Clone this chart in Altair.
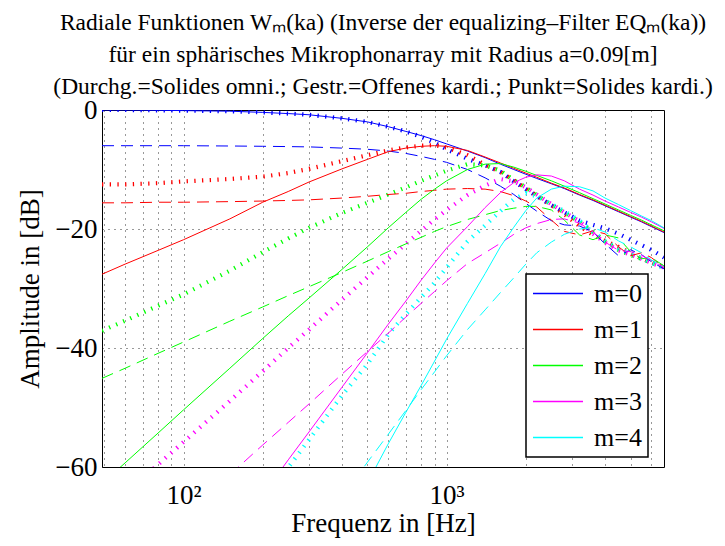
import altair as alt
import pandas as pd

FREQ = [49, 60, 80, 100, 150, 200, 250, 300, 400, 500,
        600, 700, 800, 900, 1000, 1200, 1400, 1600, 1800, 2000,
        2200, 2500, 2800, 3200, 3600, 4000, 4500, 5000, 5500, 6000,
        6700]
N = None

# Solid: "Solides omni."
SOLID_M0 = [0, 0, -0.05, -0.1, -0.2, -0.4, -0.6, -0.8, -1.4, -2.0,
            -2.8, -3.6, -4.3, -5.0, -5.7, -6.9, -8.0, -9.1, -10.0, -10.8,
            -11.5, -12.4, -13.2, -14.3, -15.2, -16.1, -17.1, -18.0, -18.8, -19.6,
            -20.6]
SOLID_M1 = [-27.6, -25.9, -23.6, -21.8, -18.3, -15.5, -13.7, -12.1, -9.9, -8.3,
            -7.0, -6.4, -6.1, -6.0, -6.1, -6.8, -7.9, -8.9, -9.8, -10.6,
            -11.3, -12.3, -13.1, -14.2, -15.1, -16.0, -17.0, -17.9, -18.7, -19.5,
            -20.5]
SOLID_M2 = [-62.8, -59.3, -54.3, -50.4, -43.4, -38.4, -34.6, -31.6, -26.8, -23.0,
            -19.8, -17.2, -15.0, -13.3, -11.9, -10.0, -9.1, -9.0, -9.6, -10.3,
            -11.0, -11.9, -12.8, -13.9, -14.9, -15.8, -16.8, -17.7, -18.5, -19.3,
            -20.3]
SOLID_M3 = [N, N, N, N, N, -64.7, -58.8, -54.1, -46.6, -40.8,
            -36.0, -32.1, -28.6, -25.7, -23.2, -19.6, -16.4, -13.9, -12.2, -11.3,
            -10.9, -11.1, -11.9, -13.3, -14.3, -15.3, -16.3, -17.2, -18.0, -18.8,
            -19.9]
SOLID_M4 = [N, N, N, N, N, N, N, N, N, -62.7,
            -56.1, -50.8, -46.3, -42.2, -38.5, -32.5, -27.5, -23.0, -19.7, -16.9,
            -14.8, -13.3, -12.8, -12.9, -13.6, -14.8, -15.9, -16.9, -17.8, -18.6,
            -19.8]

# Dashed: "Offenes kardi."
DASHED_M0 = [-6.0, -6.0, -6.0, -6.0, -6.05, -6.1, -6.15, -6.2, -6.4, -6.6,
             -6.9, -7.3, -7.8, -8.3, -8.8, -10.0, -11.4, -12.8, -14.2, -15.7,
             -17.0, -18.6, -19.3, -19.5, -20.5, -22.5, -24.5, -23.5, -24.3, -25.5,
             -26.7]
DASHED_M1 = [-15.6, -15.6, -15.5, -15.5, -15.4, -15.3, -15.2, -15.1, -14.8, -14.5,
             -14.2, -14.0, -13.7, -13.5, -13.3, -13.2, -13.3, -13.7, -14.4, -15.3,
             -16.3, -18.5, -20.4, -21.0, -20.3, -20.8, -23.0, -24.5, -24.0, -24.8,
             -26.5]
DASHED_M2 = [-45.1, -43.4, -40.9, -39.0, -35.5, -33.1, -31.2, -29.7, -27.3, -25.4,
             -23.8, -22.5, -21.4, -20.4, -19.6, -18.4, -17.6, -16.9, -16.5, -16.2,
             -16.2, -16.8, -18.5, -21.0, -21.8, -21.0, -21.5, -23.8, -25.0, -24.8,
             -26.2]
DASHED_M3 = [N, N, N, N, -61.3, -56.3, -52.5, -49.4, -44.4, -40.6,
             -37.5, -34.8, -32.5, -30.5, -28.7, -25.8, -24.0, -22.4, -20.9, -19.8,
             -19.1, -18.4, -18.3, -19.0, -20.5, -22.2, -23.6, -23.8, -24.4, -25.3,
             -26.4]
DASHED_M4 = [N, N, N, N, N, N, N, N, -65.0, -59.2,
             -54.5, -50.5, -47.0, -44.0, -41.3, -36.9, -33.6, -30.7, -28.2, -25.9,
             -24.0, -22.2, -20.9, -20.0, -19.8, -20.5, -22.0, -23.0, -24.0, -25.2,
             -26.3]

# Dotted: "Solides kardi."
DOTTED_M0 = [0, 0, -0.05, -0.1, -0.2, -0.4, -0.6, -0.8, -1.4, -2.0,
             -2.8, -3.6, -4.5, -5.5, -6.6, -8.2, -9.3, -10.4, -12.0, -13.3,
             -14.5, -16.0, -17.2, -18.6, -19.3, -19.9, -20.8, -21.8, -22.7, -23.5,
             -24.8]
DOTTED_M1 = [-12.5, -12.5, -12.3, -12.0, -11.6, -11.2, -10.6, -9.9, -8.6, -7.6,
             -6.8, -6.3, -6.0, -5.9, -6.3, -7.6, -9.2, -10.4, -11.8, -13.2,
             -14.4, -16.0, -17.5, -19.5, -21.0, -22.0, -23.0, -24.0, -25.0, -25.6,
             -26.4]
DOTTED_M2 = [-37.1, -35.4, -32.9, -31.0, -27.0, -23.9, -21.6, -19.8, -17.3, -15.6,
             -14.2, -13.0, -11.9, -11.0, -10.2, -9.1, -9.3, -10.2, -11.8, -13.0,
             -14.3, -15.9, -17.2, -18.8, -20.5, -22.1, -23.5, -24.4, -25.0, -25.7,
             -26.4]
DOTTED_M3 = [N, -64.6, -59.6, -55.8, -48.9, -43.9, -40.0, -36.9, -31.9, -28.1,
             -25.0, -22.5, -20.3, -18.4, -16.8, -14.3, -12.7, -11.6, -12.0, -13.0,
             -14.2, -15.8, -17.2, -18.7, -20.8, -22.3, -23.6, -24.3, -25.0, -25.7,
             -26.5]
DOTTED_M4 = [N, N, N, N, N, -66.0, -60.1, -55.4, -48.0, -42.7,
             -37.7, -34.3, -31.5, -29.0, -26.5, -22.1, -19.4, -17.0, -15.0, -14.0,
             -14.5, -15.8, -17.0, -18.6, -20.5, -22.0, -23.3, -24.1, -24.9, -25.7,
             -26.6]

ORDERS = ["m=0", "m=1", "m=2", "m=3", "m=4"]
COLORS = ["#0000ff", "#ff0000", "#00ff00", "#ff00ff", "#00ffff"]
STYLES = ["solid", "dashed", "dotted"]
SERIES = {
    "solid": [SOLID_M0, SOLID_M1, SOLID_M2, SOLID_M3, SOLID_M4],
    "dashed": [DASHED_M0, DASHED_M1, DASHED_M2, DASHED_M3, DASHED_M4],
    "dotted": [DOTTED_M0, DOTTED_M1, DOTTED_M2, DOTTED_M3, DOTTED_M4],
}
X_GRID = [50, 60, 70, 80, 90, 100, 200, 300, 400, 500, 600, 700, 800, 900,
          1000, 2000, 3000, 4000, 5000, 6000]
Y_TICKS = [-60, -40, -20, 0]
TITLE_LINES = [
    "Radiale Funktionen Wₘ(ka) (Inverse der equalizing–Filter EQₘ(ka))",
    "für ein sphärisches Mikrophonarray mit Radius a=0.09[m]",
    "(Durchg.=Solides omni.; Gestr.=Offenes kardi.; Punkt=Solides kardi.)",
]

rows = []
for style in STYLES:
    for m, vals in zip(ORDERS, SERIES[style]):
        for f, v in zip(FREQ, vals):
            if v is not None:
                rows.append({"f": f, "db": v, "m": m, "style": style})
df = pd.DataFrame(rows)

FONT = "Liberation Serif"

x_enc = alt.X("f:Q",
              scale=alt.Scale(type="log", domain=[49, 6700], nice=False),
              axis=alt.Axis(values=X_GRID,
                            labelExpr="datum.value == 100 ? '10²' : (datum.value == 1000 ? '10³' : '')",
                            labelOverlap=False, labelFontSize=27, labelPadding=15,
                            title="Frequenz in [Hz]", titleFontSize=27, titlePadding=2,
                            grid=True, gridDash=[1, 5], gridColor="#000000", gridOpacity=0.8,
                            ticks=False, domain=False))
y_enc = alt.Y("db:Q",
              scale=alt.Scale(domain=[-60, 0], nice=False),
              axis=alt.Axis(values=Y_TICKS, labelFontSize=27, labelPadding=5,
                            title="Amplitude in [dB]", titleFontSize=27, titlePadding=10,
                            grid=True, gridDash=[1, 5], gridColor="#000000", gridOpacity=0.8,
                            ticks=False, domain=False))
c_enc = alt.Color("m:N", scale=alt.Scale(domain=ORDERS, range=COLORS),
                  legend=alt.Legend(title=None, orient="none", legendX=424, legendY=164,
                                    direction="vertical", columns=1,
                                    symbolType="stroke", symbolSize=2500,
                                    symbolStrokeWidth=1.5, symbolOpacity=1,
                                    symbolDash=[1, 0],
                                    labelFontSize=26, labelFont=FONT,
                                    clipHeight=27, rowPadding=9,
                                    padding=6, strokeColor="#000000",
                                    fillColor="#ffffff", labelOffset=10))

base = alt.Chart(df).encode(x=x_enc, y=y_enc, color=c_enc)

solid = base.transform_filter(alt.datum.style == "solid").mark_line(
    clip=True, strokeWidth=1)
dashed = base.transform_filter(alt.datum.style == "dashed").mark_line(
    clip=True, strokeWidth=1, strokeDash=[12, 7])
dotted = base.transform_filter(alt.datum.style == "dotted").mark_line(
    clip=True, strokeWidth=4.2, strokeDash=[1.3, 6.4], strokeCap="butt")

chart = alt.layer(dotted, dashed, solid).properties(
    width=562,
    height=357,
    autosize=alt.AutoSizeParams(type="none"),
    padding={"left": 94, "top": 102, "right": 53, "bottom": 71},
    background="#ffffff",
    title=alt.TitleParams(
        text=TITLE_LINES,
        fontSize=23.5, font=FONT, fontWeight="normal", lineHeight=32,
        anchor="middle", offset=-2, color="#000000"),
).configure_view(
    stroke="#000000", strokeWidth=1
).configure_axis(
    labelFont=FONT, titleFont=FONT, labelColor="#000000", titleColor="#000000",
    titleFontWeight="normal"
).configure_legend(
    strokeWidth=1.5
)

chart.save("out.html", embed_options={"renderer": "svg", "actions": False})
